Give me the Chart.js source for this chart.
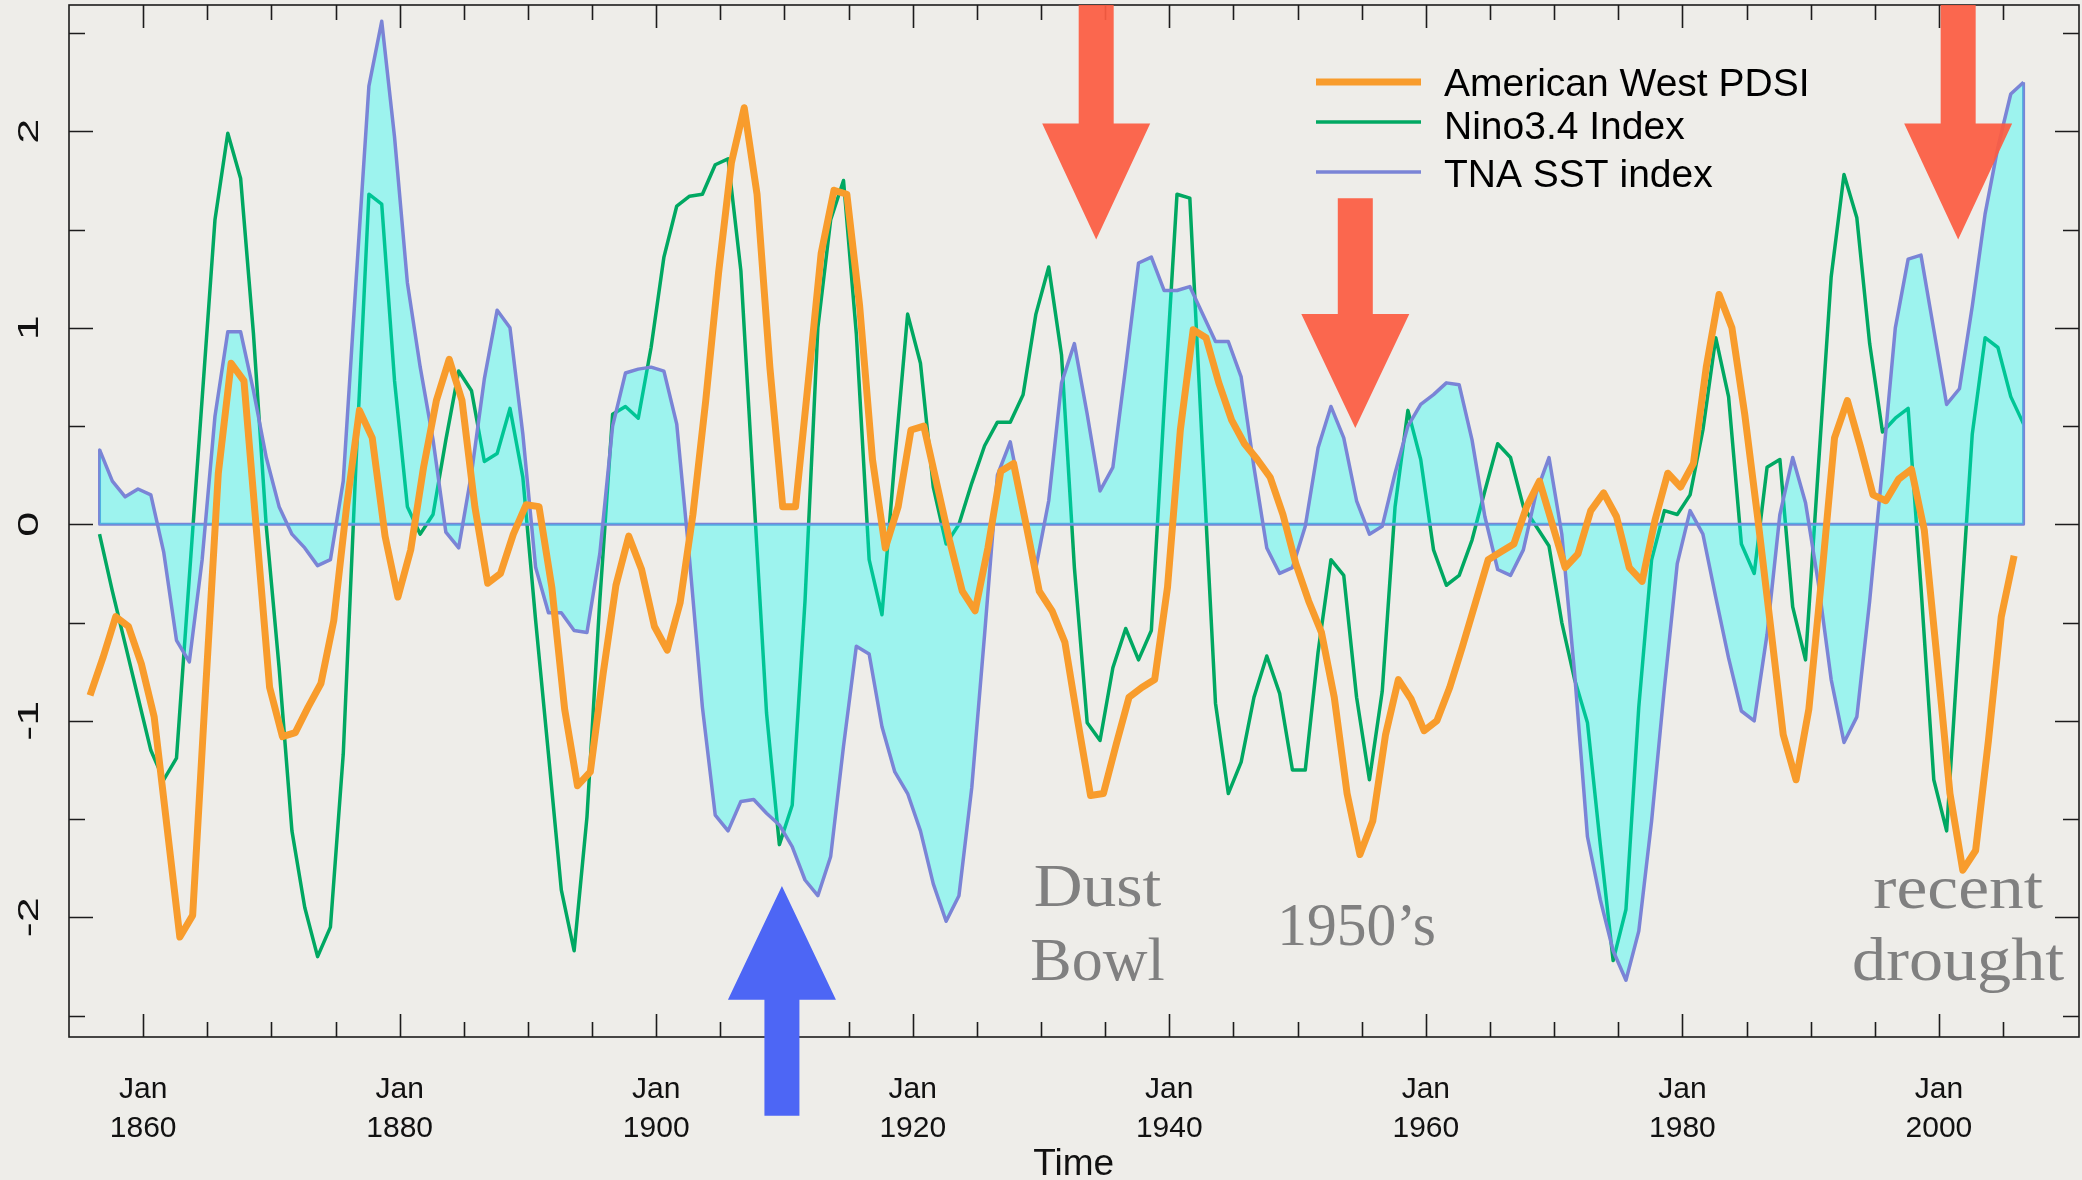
<!DOCTYPE html>
<html>
<head>
<meta charset="utf-8">
<script src="https://cdn.jsdelivr.net/npm/chart.js@4.4.0/dist/chart.umd.min.js"></script>
<style>
  html, body { margin: 0; padding: 0; background: #eeede9; }
  #wrap { width: 2082px; height: 1180px; }
</style>
</head>
<body>
<div id="wrap"><canvas id="chartCanvas" width="2082" height="1180"></canvas></div>
<script>
// yearly series, first point of each series (decimal year)
const pdsiStart = 1855.86;
const sstStart = 1856.6;

// American West PDSI
const pdsi = [
  -0.87, -0.68, -0.47, -0.52, -0.71, -0.98, -1.54, -2.10, -1.99, -0.85,
   0.26,  0.82,  0.73, -0.05, -0.83, -1.08, -1.06, -0.93, -0.81, -0.49,
   0.09,  0.58,  0.44, -0.06, -0.37, -0.13,  0.29,  0.63,  0.84,  0.63,
   0.09, -0.30, -0.25, -0.05,  0.10,  0.09, -0.32, -0.94, -1.33, -1.26,
  -0.76, -0.31, -0.06, -0.23, -0.52, -0.64, -0.40,  0.05,  0.63,  1.28,
   1.84,  2.12,  1.68,  0.80,  0.09,  0.09,  0.73,  1.38,  1.70,  1.68,
   1.11,  0.33, -0.12,  0.09,  0.48,  0.50,  0.21, -0.08, -0.34, -0.44,
  -0.12,  0.27,  0.31, -0.01, -0.34, -0.44, -0.60, -1.00, -1.38, -1.37,
  -1.12, -0.88, -0.83, -0.79, -0.32,  0.48,  0.99,  0.95,  0.72,  0.53,
   0.41,  0.33,  0.24,  0.05, -0.20, -0.39, -0.55, -0.88, -1.37, -1.68,
  -1.51, -1.07, -0.79, -0.89, -1.05, -1.00, -0.83, -0.62, -0.40, -0.18,
  -0.14, -0.10,  0.09,  0.22,  0.00, -0.22, -0.15,  0.07,  0.16,  0.04,
  -0.22, -0.29,  0.02,  0.26,  0.19,  0.31,  0.80,  1.17,  1.00,  0.56,
   0.04, -0.51, -1.07, -1.30, -0.94, -0.27,  0.44,  0.63,  0.40,  0.15,
   0.12,  0.23,  0.28, -0.03, -0.69, -1.37, -1.76, -1.66, -1.10, -0.47,
  -0.16
];

// Nino3.4 Index
const nino = [
  -0.05, -0.34, -0.61, -0.88, -1.15, -1.30, -1.19, -0.27,  0.64,  1.55,
   1.99,  1.76,  0.97, -0.01, -0.73, -1.56, -1.95, -2.20, -2.05, -1.17,
   0.32,  1.68,  1.63,  0.73,  0.09, -0.05,  0.05,  0.43,  0.78,  0.68,
   0.32,  0.36,  0.59,  0.24, -0.49, -1.17, -1.86, -2.17, -1.49, -0.39,
   0.56,  0.60,  0.54,  0.90,  1.36,  1.62,  1.67,  1.68,  1.83,  1.86,
   1.29,  0.16, -0.96, -1.63, -1.43, -0.39,  1.00,  1.55,  1.75,  0.97,
  -0.18, -0.46,  0.33,  1.07,  0.82,  0.19, -0.10,  0.00,  0.21,  0.40,
   0.52,  0.52,  0.66,  1.07,  1.31,  0.86, -0.22, -1.01, -1.10, -0.73,
  -0.53, -0.69, -0.54,  0.60,  1.68,  1.66,  0.36, -0.91, -1.37, -1.21,
  -0.88, -0.67, -0.86, -1.25, -1.25, -0.65, -0.18, -0.26, -0.88, -1.30,
  -0.85,  0.09,  0.58,  0.33, -0.13, -0.31, -0.26, -0.08,  0.17,  0.41,
   0.34,  0.09, -0.01, -0.11, -0.50, -0.79, -1.01, -1.63, -2.22, -1.96,
  -0.93, -0.18,  0.07,  0.05,  0.15,  0.48,  0.95,  0.65, -0.10, -0.25,
   0.29,  0.33, -0.42, -0.69,  0.29,  1.26,  1.78,  1.56,  0.92,  0.47,
   0.54,  0.59, -0.32, -1.30, -1.56, -0.54,  0.46,  0.95,  0.90,  0.65,
   0.51
];

// TNA SST index
const tna = [
   0.38,  0.22,  0.14,  0.18,  0.15, -0.14, -0.59, -0.70, -0.18,  0.55,
   0.98,  0.98,  0.68,  0.34,  0.09, -0.05, -0.12, -0.21, -0.18,  0.22,
   1.24,  2.23,  2.56,  1.97,  1.23,  0.80,  0.43, -0.04, -0.12,  0.26,
   0.74,  1.09,  1.00,  0.46, -0.22, -0.45, -0.45, -0.54, -0.55, -0.15,
   0.50,  0.77,  0.79,  0.80,  0.78,  0.51, -0.18, -0.93, -1.48, -1.56,
  -1.41, -1.40, -1.47, -1.53, -1.64, -1.81, -1.89, -1.69, -1.13, -0.62,
  -0.66, -1.03, -1.26, -1.37, -1.56, -1.83, -2.02, -1.89, -1.34, -0.56,
   0.25,  0.42,  0.09, -0.22,  0.12,  0.72,  0.92,  0.56,  0.17,  0.29,
   0.80,  1.33,  1.36,  1.19,  1.19,  1.21,  1.07,  0.93,  0.93,  0.75,
   0.29, -0.12, -0.25, -0.22, -0.01,  0.39,  0.60,  0.44,  0.12, -0.05,
  -0.01,  0.26,  0.50,  0.61,  0.66,  0.72,  0.71,  0.43,  0.04, -0.23,
  -0.26, -0.13,  0.16,  0.34, -0.05, -0.76, -1.59, -1.91, -2.17, -2.32,
  -2.07, -1.51, -0.83, -0.20,  0.07, -0.05, -0.37, -0.68, -0.95, -1.00,
  -0.56,  0.05,  0.34,  0.11, -0.30, -0.79, -1.11, -0.98, -0.39,  0.29,
   1.00,  1.35,  1.37,  0.99,  0.61,  0.69,  1.11,  1.58,  1.92,  2.19,
   2.25
];

const seriesNames = ["American West PDSI", "Nino3.4 Index", "TNA SST index"];
const xLabelYears = [1860, 1880, 1900, 1920, 1940, 1960, 1980, 2000];
const yLabels = [-2, -1, 0, 1, 2];

const colors = {
  pdsi: "#f89c2c",
  nino: "#00a862",
  tna: "#7a84d6",
  fill: "rgba(0, 255, 250, 0.34)",
};

const toPoints = (start, values) => values.map((v, i) => ({ x: start + i, y: v }));

const sstEnd = sstStart + tna.length - 1;
// outline of the polygon: down from first value to 0, along 0, up to the last value
const baseline = [
  { x: sstStart, y: tna[0] },
  { x: sstStart, y: 0 },
  { x: sstEnd, y: 0 },
  { x: sstEnd, y: tna[tna.length - 1] },
];

// notes drawn on top of the plot (year, y value)
const arrows = [
  { year: 1934.3, tip: 1.45, base: 2.04, end: null, color: "rgba(252, 92, 66, 0.93)" },
  { year: 1954.5, tip: 0.49, base: 1.07, end: 1.66, color: "rgba(252, 92, 66, 0.93)" },
  { year: 2001.5, tip: 1.45, base: 2.04, end: null, color: "rgba(252, 92, 66, 0.93)" },
  { year: 1909.8, tip: -1.84, base: -2.42, end: -3.01, color: "#4d66f5" },
];
const notes = [
  { year: 1934.4, y: -1.94, text: "Dust", sx: 1.09 },
  { year: 1934.4, y: -2.32, text: "Bowl", sx: 1.0 },
  { year: 1954.6, y: -2.14, text: "1950\u2019s", sx: 0.96 },
  { year: 2001.5, y: -1.95, text: "recent", sx: 1.12 },
  { year: 2001.5, y: -2.32, text: "drought", sx: 1.1 },
];

const decorPlugin = {
  id: "decor",
  afterDraw(chart) {
    const { ctx, chartArea: a } = chart;
    const xs = chart.scales.x;
    const ys = chart.scales.y;
    ctx.save();

    // frame + inner ticks (R style)
    ctx.strokeStyle = "#1c1c1c";
    ctx.lineWidth = 1.6;
    ctx.strokeRect(a.left, a.top, a.right - a.left, a.bottom - a.top);
    ctx.beginPath();
    for (let yr = 1860; yr <= 2005; yr += 5) {
      const px = Math.round(xs.getPixelForValue(yr)) + 0.5;
      const len = yr % 20 === 0 ? 23 : 15;
      ctx.moveTo(px, a.top); ctx.lineTo(px, a.top + len);
      ctx.moveTo(px, a.bottom); ctx.lineTo(px, a.bottom - len);
    }
    for (let v = -2.5; v <= 2.5; v += 0.5) {
      const py = Math.round(ys.getPixelForValue(v)) + 0.5;
      const len = Number.isInteger(v) ? 24 : 16;
      ctx.moveTo(a.left, py); ctx.lineTo(a.left + len, py);
      ctx.moveTo(a.right, py); ctx.lineTo(a.right - len, py);
    }
    ctx.stroke();

    // x labels
    ctx.fillStyle = "#111";
    ctx.font = "30px 'Liberation Sans', Arial, sans-serif";
    ctx.textAlign = "center";
    ctx.textBaseline = "alphabetic";
    xLabelYears.forEach((yr) => {
      const px = xs.getPixelForValue(yr);
      ctx.fillText("Jan", px, 1098);
      ctx.fillText(String(yr), px, 1137);
    });
    ctx.font = "37px 'Liberation Sans', Arial, sans-serif";
    ctx.fillText("Time", xs.getPixelForValue(1932.55), 1175);

    // y labels, rotated
    ctx.font = "29px 'Liberation Sans', Arial, sans-serif";
    ctx.textBaseline = "middle";
    yLabels.forEach((v) => {
      ctx.save();
      ctx.translate(29, ys.getPixelForValue(v));
      ctx.rotate(-Math.PI / 2);
      ctx.scale(1.55, 1);
      ctx.fillText(v < 0 ? "-" + Math.abs(v) : String(v), 0, 1);
      ctx.restore();
    });

    // arrows
    const hw = 54, sw = 17.5;
    arrows.forEach((ar) => {
      const cx = xs.getPixelForValue(ar.year);
      const tip = ys.getPixelForValue(ar.tip);
      const base = ys.getPixelForValue(ar.base);
      const end = ar.end === null ? a.top : ys.getPixelForValue(ar.end);
      ctx.fillStyle = ar.color;
      ctx.beginPath();
      ctx.moveTo(cx, tip);
      ctx.lineTo(cx + hw, base);
      ctx.lineTo(cx + sw, base);
      ctx.lineTo(cx + sw, end);
      ctx.lineTo(cx - sw, end);
      ctx.lineTo(cx - sw, base);
      ctx.lineTo(cx - hw, base);
      ctx.closePath();
      ctx.fill();
    });

    // period notes
    ctx.fillStyle = "#808080";
    ctx.font = "62px 'Liberation Serif', 'Times New Roman', serif";
    ctx.textAlign = "center";
    ctx.textBaseline = "alphabetic";
    notes.forEach((n) => {
      ctx.save();
      ctx.translate(xs.getPixelForValue(n.year), ys.getPixelForValue(n.y));
      ctx.scale(n.sx, 1);
      ctx.fillText(n.text, 0, 0);
      ctx.restore();
    });

    // legend
    const legend = [
      { c: colors.pdsi, w: 7, ly: 82, ty: 85 },
      { c: colors.nino, w: 3.5, ly: 122, ty: 128 },
      { c: colors.tna, w: 3.5, ly: 172, ty: 176 },
    ];
    ctx.font = "39px 'Liberation Sans', Arial, sans-serif";
    ctx.textAlign = "left";
    ctx.textBaseline = "middle";
    legend.forEach((l, i) => {
      ctx.strokeStyle = l.c;
      ctx.lineWidth = l.w;
      ctx.beginPath();
      ctx.moveTo(1316, l.ly);
      ctx.lineTo(1421, l.ly);
      ctx.stroke();
      ctx.fillStyle = "#000";
      ctx.fillText(seriesNames[i], 1444, l.ty);
    });

    ctx.restore();
  },
};

const ctx = document.getElementById("chartCanvas").getContext("2d");

const chart = new Chart(ctx, {
  type: "line",
  data: {
    datasets: [
      {
        label: seriesNames[0],
        data: toPoints(pdsiStart, pdsi),
        borderColor: colors.pdsi,
        borderWidth: 7,
        order: 1,
      },
      {
        label: seriesNames[2],
        data: toPoints(sstStart, tna),
        borderColor: colors.tna,
        borderWidth: 3.5,
        backgroundColor: colors.fill,
        fill: { value: 0 },
        order: 2,
      },
      {
        label: "TNA baseline",
        data: baseline,
        borderColor: colors.tna,
        borderWidth: 3,
        order: 2,
      },
      {
        label: seriesNames[1],
        data: toPoints(sstStart, nino),
        borderColor: colors.nino,
        borderWidth: 3.5,
        order: 3,
      },
    ],
  },
  options: {
    responsive: false,
    animation: false,
    devicePixelRatio: 1,
    layout: { padding: { left: 69, top: 5, right: 3, bottom: 143 } },
    elements: {
      point: { radius: 0, hoverRadius: 0 },
      line: { tension: 0, borderJoinStyle: "round", borderCapStyle: "butt" },
    },
    scales: {
      x: { type: "linear", min: 1854.22, max: 2010.92, display: false },
      y: { type: "linear", min: -2.609, max: 2.643, display: false },
    },
    plugins: {
      legend: { display: false },
      tooltip: { enabled: false },
    },
  },
  plugins: [decorPlugin],
});
</script>
</body>
</html>
